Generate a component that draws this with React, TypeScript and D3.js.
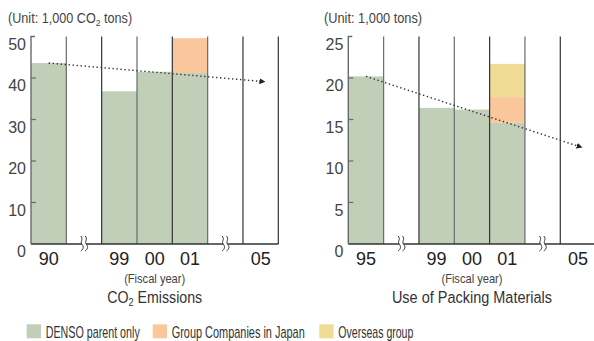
import React, { useLayoutEffect, useRef, useState } from "react";
import * as d3 from "d3";

// ---- data ----
const co2Slots = ["90", "brk1", "99", "00", "01", "brk2", "05"];
const co2Years = ["90", "99", "00", "01"];
const co2Denso = [43.6, 36.8, 41.5, 41.2];
const co2Group = [0, 0, 0, 8.4];
const co2Overseas = [0, 0, 0, 0];
const co2Trend = [43.6, 39.2]; // 90 -> 05
const co2Ticks = [0, 10, 20, 30, 40, 50];

const pkSlots = ["95", "brk1", "99", "00", "01", "brk2", "05"];
const pkYears = ["95", "99", "00", "01"];
const pkDenso = [20.2, 16.4, 16.2, 14.6];
const pkGroup = [0, 0, 0, 3.1];
const pkOverseas = [0, 0, 0, 4.0];
const pkTrend = [20.2, 11.8]; // 95 -> 05
const pkTicks = [0, 5, 10, 15, 20, 25];

const legendLabels = ["DENSO parent only", "Group Companies in Japan", "Overseas group"];
const colors = ["#c2cfb8", "#fac79d", "#f1dc95"];

const FONT = "'Liberation Sans', Arial, Helvetica, sans-serif";

type FitProps = {
  x: number;
  y: number;
  width: number;
  anchor?: "start" | "middle";
  fontSize: number;
  fill: string;
  children: React.ReactNode;
};

function FitText({ x, y, width, anchor = "start", fontSize, fill, children }: FitProps) {
  const ref = useRef<SVGTextElement>(null);
  const [s, setS] = useState(0.8);
  useLayoutEffect(() => {
    if (ref.current) {
      const w = ref.current.getComputedTextLength();
      if (w > 0) setS(width / w);
    }
  }, [width]);
  return (
    <g transform={`translate(${x},${y}) scale(${s},1)`}>
      <text ref={ref} x={0} y={0} textAnchor={anchor} fontSize={fontSize} fill={fill} fontFamily={FONT}>
        {children}
      </text>
    </g>
  );
}

type PanelProps = {
  x0: number;
  slots: string[];
  years: string[];
  denso: number[];
  group: number[];
  overseas: number[];
  trend: number[];
  ticks: number[];
  yMax: number;
  unit: React.ReactNode;
  unitLen: number;
  unitX: number;
  title: React.ReactNode;
  titleLen: number;
  id: string;
};

function Panel(p: PanelProps) {
  const top = 36.5;
  const base = 244;
  const slotW = 35.33;
  const x = d3
    .scaleBand<string>()
    .domain(p.slots)
    .range([p.x0, p.x0 + slotW * p.slots.length])
    .padding(0);
  const y = d3.scaleLinear().domain([0, p.yMax]).range([base, top]);
  const bw = x.bandwidth();
  const cx = (s: string) => (x(s) as number) + bw / 2;

  const stacks = p.years.map((yr, i) => {
    const vals = [p.denso[i], p.group[i], p.overseas[i]];
    let acc = 0;
    return vals.map((v, k) => {
      const r = { yr, k, y0: acc, y1: acc + v };
      acc += v;
      return r;
    });
  });

  const boundaries = p.slots.map((s) => (x(s) as number) + bw);
  const breaks = p.slots.filter((s) => s.startsWith("brk"));
  const first = p.years[0];
  const last = p.slots[p.slots.length - 1];
  const lineGen = d3
    .line<[number, number]>()
    .x((d) => d[0])
    .y((d) => d[1]);
  const trendPts: [number, number][] = [
    [cx(first), y(p.trend[0])],
    [cx(last), y(p.trend[1])],
  ];
  const centerX = cx(p.years[2]);

  return (
    <g>
      <FitText x={p.unitX} y={23} width={p.unitLen} fontSize={14} fill="#444">
        {p.unit}
      </FitText>
      {stacks.flat().map((r) =>
        r.y1 > r.y0 ? (
          <rect
            key={r.yr + r.k}
            x={x(r.yr) as number}
            y={y(r.y1)}
            width={bw}
            height={y(r.y0) - y(r.y1)}
            fill={colors[r.k]}
          />
        ) : null
      )}
      {boundaries.map((bx, i) => (
        <line
          key={i}
          x1={bx}
          x2={bx}
          y1={top}
          y2={base}
          stroke={i % 2 === 0 && i < boundaries.length - 1 ? "#6a6a6a" : "#333"}
          strokeWidth={1.2}
        />
      ))}
      <line x1={p.x0} x2={boundaries[boundaries.length - 1]} y1={base} y2={base} stroke="#333" strokeWidth={1.3} />
      <path d={`M${p.x0 + 4},${top} H${p.x0} V${base}`} fill="none" stroke="#6a6a6a" strokeWidth={1.4} />
      {p.ticks.slice(1, -1).map((t) => (
        <line key={t} x1={p.x0} x2={p.x0 + 5} y1={y(t)} y2={y(t)} stroke="#6a6a6a" strokeWidth={1.2} />
      ))}
      {p.ticks.map((t) => (
        <text key={t} x={p.x0 - 5} y={y(t) + 13} textAnchor="end" fontSize={16} fill="#444" fontFamily={FONT}>
          {t}
        </text>
      ))}
      <defs>
        <marker
          id={"arr" + p.id}
          viewBox="0 0 10 10"
          refX={2}
          refY={5}
          markerWidth={6}
          markerHeight={6}
          markerUnits="userSpaceOnUse"
          orient="auto"
        >
          <path d="M0,0 L10,5 L0,10 z" fill="#222" />
        </marker>
      </defs>
      <path
        d={lineGen(trendPts) as string}
        fill="none"
        stroke="#333"
        strokeWidth={1.4}
        strokeDasharray="1.4,2.6"
        markerEnd={`url(#arr${p.id})`}
      />
      {breaks.map((b) => {
        const c = cx(b);
        return (
          <g key={b}>
            <rect x={c - 2} y={base - 3} width={4} height={6} fill="#fff" />
            {[-2.2, 2.2].map((dx) => (
              <path
                key={dx}
                d={`M${c + dx - 1},${base - 8} C${c + dx + 2},${base - 5} ${c + dx - 2},${base - 2} ${c + dx},${base} S${c + dx + 2},${base + 5} ${c + dx - 1},${base + 7}`}
                fill="none"
                stroke="#333"
                strokeWidth={1}
              />
            ))}
          </g>
        );
      })}
      {p.slots
        .filter((s) => !s.startsWith("brk"))
        .map((s) => (
          <text key={s} x={cx(s)} y={265} textAnchor="middle" fontSize={18} fill="#222" fontFamily={FONT}>
            {s}
          </text>
        ))}
      <FitText x={centerX} y={283} width={61} anchor="middle" fontSize={12.5} fill="#444">
        (Fiscal year)
      </FitText>
      <FitText x={centerX} y={302.5} width={p.titleLen} anchor="middle" fontSize={17} fill="#333">
        {p.title}
      </FitText>
    </g>
  );
}

export default function App() {
  const legendX = [26.7, 152.7, 319.3];
  const legendLen = [94, 133, 75];
  return (
    <svg width={594} height={341} style={{ position: "absolute", left: 0, top: 0 }}>
      <rect width={594} height={341} fill="#fff" />
      <Panel
        id="a"
        x0={31}
        slots={co2Slots}
        years={co2Years}
        denso={co2Denso}
        group={co2Group}
        overseas={co2Overseas}
        trend={co2Trend}
        ticks={co2Ticks}
        yMax={50}
        unitX={8}
        unitLen={124}
        unit={
          <>
            (Unit: 1,000 CO<tspan fontSize={9.5} dy={3}>2</tspan>
            <tspan dy={-3}> tons)</tspan>
          </>
        }
        title={
          <>
            CO<tspan fontSize={11} dy={3}>2</tspan>
            <tspan dy={-3}> Emissions</tspan>
          </>
        }
        titleLen={95}
      />
      <Panel
        id="b"
        x0={348.3}
        slots={pkSlots}
        years={pkYears}
        denso={pkDenso}
        group={pkGroup}
        overseas={pkOverseas}
        trend={pkTrend}
        ticks={pkTicks}
        yMax={25}
        unitX={324}
        unitLen={98}
        unit={"(Unit: 1,000 tons)"}
        title={"Use of Packing Materials"}
        titleLen={160}
      />
      {legendLabels.map((l, i) => (
        <g key={l}>
          <rect x={legendX[i]} y={324.3} width={14.3} height={14} fill={colors[i]} />
          <FitText x={legendX[i] + 19} y={337.5} width={legendLen[i]} fontSize={16} fill="#333">
            {l}
          </FitText>
        </g>
      ))}
    </svg>
  );
}
